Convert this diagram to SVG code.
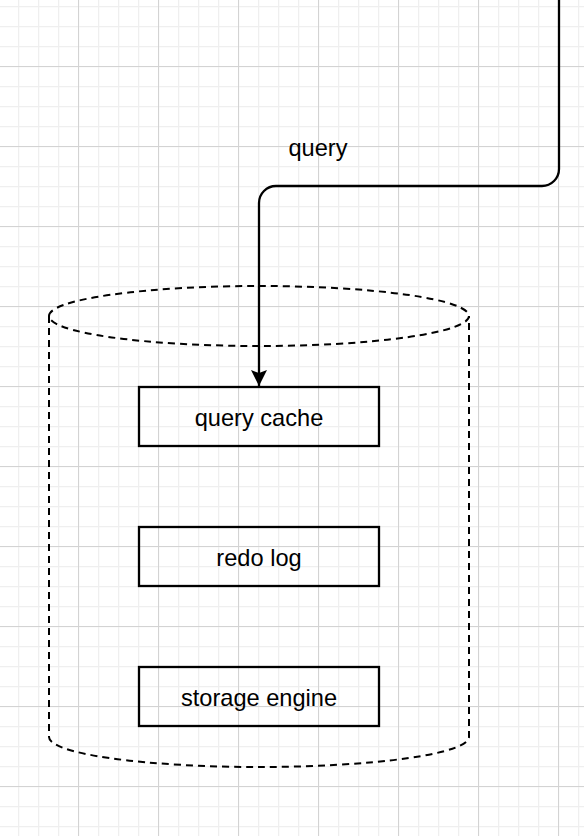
<svg xmlns="http://www.w3.org/2000/svg" width="584" height="836" viewBox="0 0 584 836">
<style>
.box{fill:none;stroke:#000;stroke-width:2.3}
.lbl{font-family:"Liberation Sans",Arial,sans-serif;font-size:23.6px;fill:#000;text-anchor:middle}
.cyl{fill:none;stroke:#000;stroke-width:2;stroke-dasharray:7 5}
.edge{fill:none;stroke:#000;stroke-width:2.3}
</style>
<defs>
<pattern id="minor" width="20" height="20" patternUnits="userSpaceOnUse" x="18" y="6">
<path d="M0.5 0V20M0 0.5H20" stroke="#efefef" stroke-width="1.5" fill="none"/>
</pattern>
<pattern id="major" width="80" height="80" patternUnits="userSpaceOnUse" x="78" y="66">
<path d="M0.5 0V80M0 0.5H80" stroke="#d3d3d3" stroke-width="1" fill="none"/>
</pattern>
<marker id="arr" markerUnits="userSpaceOnUse" markerWidth="20" markerHeight="20" refX="16" refY="8" orient="auto">
<path d="M0 0L16 8L0 16L3 8Z" fill="#000"/>
</marker>
</defs>
<rect width="584" height="836" fill="#fff"/>
<rect width="584" height="836" fill="url(#minor)"/>
<rect width="584" height="836" fill="url(#major)"/>
<g id="database">
<path class="cyl" d="M49 316A210 30 0 0 1 469 316A210 30 0 0 1 49 316M49 316V737A210 30 0 0 0 469 737V316"/>
</g>
<g id="query-cache">
<rect class="box" x="139" y="387" width="240" height="59"/>
<text class="lbl" x="259" y="425.5">query cache</text>
</g>
<g id="redo-log">
<rect class="box" x="139" y="527" width="240" height="59"/>
<text class="lbl" x="259" y="565.5">redo log</text>
</g>
<g id="storage-engine">
<rect class="box" x="139" y="667" width="240" height="59"/>
<text class="lbl" x="259" y="705.5">storage engine</text>
</g>
<g id="connectors">
<path class="edge" d="M559 0V169A17 17 0 0 1 542 186H276A17 17 0 0 0 259 203V386" marker-end="url(#arr)"/>
<text class="lbl" x="318" y="156">query</text>
</g>
</svg>
